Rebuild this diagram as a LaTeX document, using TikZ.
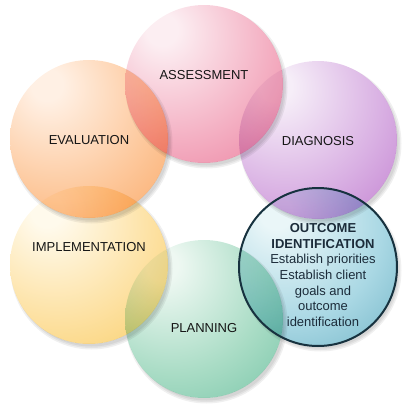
\documentclass[tikz,border=0pt]{standalone}
\usepackage{fontspec}
\setmainfont{Liberation Sans}
\definecolor{aIn}{HTML}{FCEEF2}\definecolor{aMid}{HTML}{F4B0C3}\definecolor{aOut}{HTML}{E6648A}
\definecolor{dIn}{HTML}{F6EEF8}\definecolor{dMid}{HTML}{D9B0E3}\definecolor{dOut}{HTML}{B25DC3}
\definecolor{oIn}{HTML}{EAF6F8}\definecolor{oMid}{HTML}{AAD8E4}\definecolor{oOut}{HTML}{4A9CB2}
\definecolor{pIn}{HTML}{EEF8F2}\definecolor{pMid}{HTML}{A9DCC5}\definecolor{pOut}{HTML}{56B594}
\definecolor{iIn}{HTML}{FFFAEC}\definecolor{iMid}{HTML}{FDE1A2}\definecolor{iOut}{HTML}{F6C142}
\definecolor{eIn}{HTML}{FFF0E4}\definecolor{eMid}{HTML}{FDC89C}\definecolor{eOut}{HTML}{F79546}
\definecolor{ringline}{HTML}{17323F}
\definecolor{txt}{HTML}{151515}
\definecolor{otxt}{HTML}{1C2C3A}
\newcommand\mkshade[4]{\pgfdeclareradialshading{#1}{\pgfpoint{-14bp}{18bp}}{color(0bp)=(#2); color(5bp)=(#2); color(30bp)=(#3); color(62bp)=(#4); color(100bp)=(#4)}}
\mkshade{shA}{aIn}{aMid}{aOut}
\mkshade{shD}{dIn}{dMid}{dOut}
\mkshade{shO}{oIn}{oMid}{oOut}
\mkshade{shP}{pIn}{pMid}{pOut}
\mkshade{shI}{iIn}{iMid}{iOut}
\mkshade{shE}{eIn}{eMid}{eOut}
\begin{document}
\begin{tikzpicture}[x=1pt,y=-1pt,
  ball/.style={circle, inner sep=0pt, minimum size=158pt, shading=#1, blend mode=multiply},
  lbl/.style={anchor=base, inner sep=0pt, text=txt, font=\fontsize{13}{15.7}\selectfont},
  shadowdisc/.style={fill=black, fill opacity=0.06}]
\useasboundingbox (0,0) rectangle (408,408);
\coordinate (cA) at (204,84);
\coordinate (cD) at (318,140);
\coordinate (cO) at (318,267);
\coordinate (cP) at (204,319);
\coordinate (cI) at (89,265);
\coordinate (cE) at (89,139);
\foreach \c in {cA,cD,cO,cP,cI,cE}{
  \begin{scope}[even odd rule]
    \clip (-10,-10) rectangle (420,420) (\c) circle[radius=79];
    \foreach \r in {78,79.5,81}{
      \fill[shadowdisc] ([shift={(2.5,3.5)}]\c) circle[radius=\r];
    }
  \end{scope}
}
\node[ball=shA] (A) at (cA) {};
\node[ball=shD] (D) at (cD) {};
\node[ball=shO] (O) at (cO) {};
\node[ball=shP] (P) at (cP) {};
\node[ball=shI] (I) at (cI) {};
\node[ball=shE] (E) at (cE) {};
\draw[line width=2pt, draw=ringline] (O.center) circle[radius=79];
\node[lbl] (tA) at (204,79.7) {ASSESSMENT};
\node[lbl] (tD) at (318,145.7) {DIAGNOSIS};
\node[lbl] (tE) at (89,144.7) {EVALUATION};
\node[lbl] (tI) at (89,251.7) {IMPLEMENTATION};
\node[lbl] (tP) at (204,332.7) {PLANNING};
\node[inner sep=0pt, align=center, text=otxt, font=\fontsize{13}{15.7}\selectfont] (tO) at (323,275)
  {\textbf{OUTCOME}\\\textbf{IDENTIFICATION}\\Establish priorities\\Establish client\\goals and\\outcome\\identification};
\end{tikzpicture}
\end{document}
